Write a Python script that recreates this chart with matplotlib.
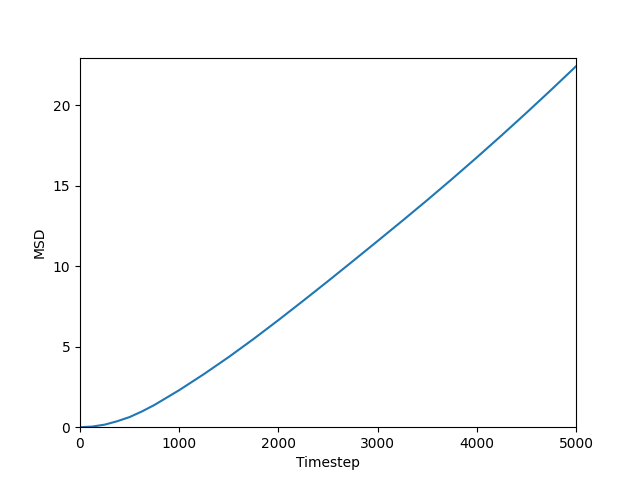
import matplotlib
matplotlib.use('Agg')
import matplotlib.pyplot as plt

timestep = [0, 125, 250, 375, 500, 625, 750, 1000, 1250, 1500, 1750, 2000, 2250, 2500,
            2750, 3000, 3250, 3500, 3750, 4000, 4250, 4500, 4750, 5000]
msd = [0.0, 0.04, 0.16, 0.37, 0.63, 0.98, 1.38, 2.30, 3.30, 4.36, 5.48, 6.65, 7.85, 9.07,
       10.31, 11.56, 12.82, 14.10, 15.41, 16.75, 18.12, 19.52, 20.95, 22.41]

plt.figure(figsize=(6.4, 4.8), dpi=100)
plt.plot(timestep, msd)
plt.xlabel('Timestep')
plt.ylabel('MSD')
plt.xlim(0, 5000)
plt.ylim(0, 22.95)
plt.savefig('out.png')
